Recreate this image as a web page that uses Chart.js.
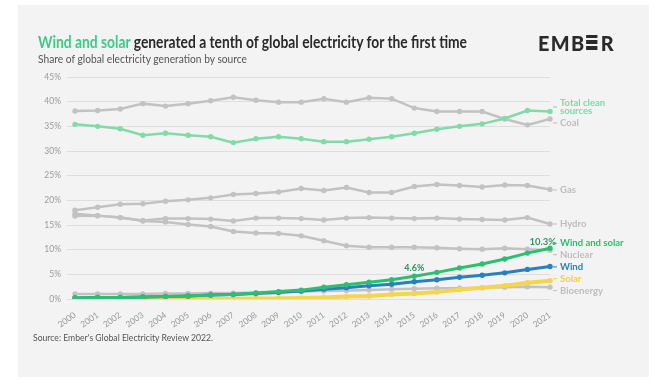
<!DOCTYPE html>
<html><head><meta charset="utf-8">
<script src="https://cdn.jsdelivr.net/npm/chart.js@4.4.1/dist/chart.umd.min.js"></script>
<style>
html,body{margin:0;padding:0;background:#fff;width:668px;height:380px;overflow:hidden;font-family:Lato,"Open Sans",sans-serif;}
#panel{position:absolute;left:18px;top:5px;width:631px;height:372px;background:#f3f3f3;}
canvas{position:absolute;left:0;top:0;}
.t{position:absolute;white-space:nowrap;transform-origin:0 0;}
#title{left:38px;top:31px;font-size:17px;font-weight:700;color:#2a2a2a;}
#title span{color:#3ec98a;}
#sub{left:38px;top:52px;font-size:11.5px;color:#555;}
#src{left:33px;top:332px;font-size:9px;color:#555;}
#logo{position:absolute;left:538px;top:32px;height:20px;font-size:21px;font-weight:900;color:#2a2a2a;display:flex;align-items:center;letter-spacing:1.5px;transform-origin:0 0;}
#logo .e{display:inline-flex;flex-direction:column;justify-content:space-between;width:12px;height:15px;margin:0 3px 0 1px;}
#logo .e i{display:block;height:3.5px;background:#2a2a2a;}
</style></head>
<body>
<div id="panel"></div>
<canvas id="c" width="668" height="380"></canvas>
<div class="t" id="title" data-w="429"><span>Wind and solar</span> generated a tenth of global electricity for the first time</div>
<div class="t" id="sub" data-w="209">Share of global electricity generation by source</div>
<div class="t" id="src" data-w="180">Source: Ember's Global Electricity Review 2022.</div>
<div id="logo" data-w="77">EMB<span class="e"><i></i><i></i><i></i></span>R</div>
<script>
const years = ["2000","2001","2002","2003","2004","2005","2006","2007","2008","2009","2010","2011","2012","2013","2014","2015","2016","2017","2018","2019","2020","2021"];
const yTicks = [0,5,10,15,20,25,30,35,40,45];
const coal = [38.1,38.2,38.5,39.6,39.1,39.6,40.2,40.9,40.3,39.9,39.9,40.6,39.9,40.8,40.6,38.7,38.0,38.0,38.0,36.5,35.3,36.5];
const totalClean = [35.4,35.0,34.5,33.2,33.6,33.2,32.9,31.7,32.5,32.9,32.5,31.9,31.9,32.4,32.9,33.6,34.4,35.0,35.5,36.6,38.2,38.0];
const gas = [18.0,18.6,19.2,19.3,19.8,20.1,20.5,21.2,21.4,21.7,22.4,22.0,22.6,21.6,21.6,22.8,23.2,23.0,22.7,23.1,23.0,22.2];
const hydro = [17.3,16.9,16.5,15.9,16.3,16.3,16.2,15.8,16.4,16.4,16.3,16.0,16.4,16.5,16.4,16.3,16.4,16.2,16.1,16.0,16.5,15.2];
const nuclear = [16.8,16.9,16.5,15.8,15.6,15.1,14.7,13.7,13.4,13.3,12.8,11.8,10.8,10.5,10.5,10.5,10.4,10.2,10.1,10.3,10.1,9.9];
const windSolar = [0.2,0.3,0.3,0.4,0.5,0.6,0.8,0.9,1.2,1.5,1.8,2.4,2.9,3.4,3.9,4.6,5.4,6.3,7.1,8.1,9.3,10.3];
const wind = [0.2,0.3,0.3,0.4,0.5,0.6,0.8,0.9,1.1,1.3,1.6,2.0,2.3,2.7,3.0,3.5,3.9,4.4,4.8,5.3,6.0,6.6];
const solar = [0.0,0.0,0.0,0.0,0.0,0.0,0.0,0.0,0.1,0.1,0.2,0.3,0.5,0.6,0.9,1.1,1.4,1.9,2.3,2.7,3.3,3.7];
const bioenergy = [1.0,1.0,1.0,1.0,1.1,1.1,1.2,1.2,1.3,1.4,1.5,1.6,1.7,1.8,2.0,2.1,2.2,2.2,2.3,2.4,2.5,2.4];

document.querySelectorAll('[data-w]').forEach(el=>{
  const w = el.getBoundingClientRect().width;
  el.style.transform = 'scaleX(' + (parseFloat(el.dataset.w)/w) + ')';
});

const GRAY = '#c2c2c2';
function ds(label, data, color, width){
  return {label, data, borderColor:color, backgroundColor:color, pointBackgroundColor:color,
    borderWidth:width, pointRadius:2.7, pointBorderWidth:0, pointHoverRadius:3, tension:0, fill:false};
}
const endLabels = {
  'Wind and solar':{text:['Wind and solar'], color:'#2cbf72', dy:-5, pct:'10.3%'},
  'Wind':{text:['Wind'], color:'#2a7fc1', dy:0.5},
  'Solar':{text:['Solar'], color:'#f2cf3e', dy:-2},
  'Total clean sources':{text:['Total clean','sources'], color:'#7fd9a8', dy:-4.5},
  'Coal':{text:['Coal'], color:'#bdbdbd', dy:4},
  'Gas':{text:['Gas'], color:'#bdbdbd', dy:0.5},
  'Hydro':{text:['Hydro'], color:'#bdbdbd', dy:0},
  'Nuclear':{text:['Nuclear'], color:'#bdbdbd', dy:4.5},
  'Bioenergy':{text:['Bioenergy'], color:'#bdbdbd', dy:3.5}
};
const labelPlugin = {
  id:'endLabels',
  afterDatasetsDraw(chart){
    const ctx = chart.ctx;
    ctx.save();
    chart.data.datasets.forEach((d,i)=>{
      const cfg = endLabels[d.label]; if(!cfg) return;
      const meta = chart.getDatasetMeta(i);
      const p = meta.data[meta.data.length-1];
      const y = p.y + cfg.dy;
      ctx.strokeStyle = cfg.color; ctx.lineWidth = 1;
      ctx.beginPath(); ctx.moveTo(p.x+3, y); ctx.lineTo(p.x+7, y); ctx.stroke();
      ctx.fillStyle = cfg.color;
      ctx.font = 'bold 9.5px Lato, sans-serif';
      ctx.textBaseline = 'middle'; ctx.textAlign = 'left';
      const n = cfg.text.length;
      cfg.text.forEach((s,k)=>{ ctx.fillText(s, p.x+10, y + (k-(n-1)/2)*8.5); });
      if(cfg.pct){
        ctx.fillStyle = '#2a9a64'; ctx.textAlign='right';
        ctx.fillText(cfg.pct, p.x+6, y-1);
      }
    });
    const wsIdx = chart.data.datasets.findIndex(d=>d.label==='Wind and solar');
    const m = chart.getDatasetMeta(wsIdx);
    const k = years.indexOf('2015');
    const pt = m.data[k];
    ctx.fillStyle = '#2f8f62'; ctx.textAlign='center'; ctx.textBaseline='bottom';
    ctx.font = 'bold 9px Lato, sans-serif';
    ctx.fillText(windSolar[k].toFixed(1)+'%', pt.x, pt.y-4);
    ctx.restore();
  }
};
new Chart(document.getElementById('c'), {
  type:'line',
  data:{labels:years, datasets:[
    ds('Wind and solar', windSolar, '#2cbf72', 3),
    ds('Wind', wind, '#2a7fc1', 3),
    ds('Solar', solar, '#f5d54e', 4),
    ds('Total clean sources', totalClean, '#80dba9', 2.5),
    ds('Coal', coal, GRAY, 2.5),
    ds('Gas', gas, GRAY, 2.5),
    ds('Hydro', hydro, GRAY, 2.5),
    ds('Nuclear', nuclear, GRAY, 2.5),
    ds('Bioenergy', bioenergy, GRAY, 2.5)
  ]},
  options:{
    responsive:false, animation:false, devicePixelRatio:1,
    layout:{padding:{top:77,right:118,left:0,bottom:0}},
    plugins:{legend:{display:false}, tooltip:{enabled:false}},
    scales:{
      x:{grid:{display:false}, border:{display:false},
        ticks:{autoSkip:false, maxRotation:35, minRotation:35, color:'#9a9a9a', font:{family:'Lato', size:8.5}, padding:3},
        afterFit(s){ s.height = 81; }},
      y:{min:0, max:45, grid:{color:'#dedede', lineWidth:1}, border:{display:false},
        afterBuildTicks(s){ s.ticks = yTicks.map(v=>({value:v})); },
        ticks:{color:'#9a9a9a', font:{family:'Lato', size:8.5}, padding:6, callback:v=>v+'%'},
        afterFit(s){ s.width = 75; }}
    }
  },
  plugins:[labelPlugin]
});
</script>
</body></html>
